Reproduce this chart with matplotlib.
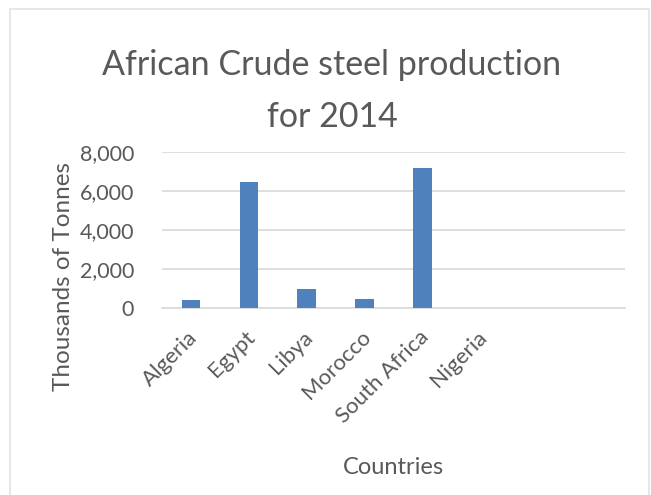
import matplotlib.pyplot as plt
import matplotlib.transforms as mtransforms
from matplotlib.patches import Rectangle
from matplotlib.ticker import FuncFormatter

# datos (miles de toneladas)
paises = ["Algeria", "Egypt", "Libya", "Morocco", "South Africa", "Nigeria", "", ""]
produccion = [380, 6450, 950, 460, 7170, 0, 0, 0]

gris_texto = "#595959"
gris_linea = "#D9D9D9"
azul = "#4F81BD"

plt.rcParams['font.family'] = ['Lato', 'DejaVu Sans']

fig = plt.figure(figsize=(6.51, 4.95), dpi=100)
ax = fig.add_axes([162 / 651, 187.3 / 495, 463 / 651, 155.4 / 495])

x = list(range(len(paises)))
ax.bar(x, produccion, width=0.32, color=azul, zorder=3)

ax.set_xlim(-0.5, len(paises) - 0.5)
ax.set_ylim(0, 8000)
ax.set_yticks([0, 2000, 4000, 6000, 8000])
ax.yaxis.set_major_formatter(FuncFormatter(lambda v, p: f"{int(v):,}"))
ax.grid(axis='y', color=gris_linea, linewidth=1.2, zorder=0)

for lado in ['top', 'right', 'left']:
    ax.spines[lado].set_visible(False)
ax.spines['bottom'].set_color(gris_linea)
ax.spines['bottom'].set_linewidth(1.2)

ax.tick_params(axis='y', length=0, colors=gris_texto, labelsize=15.5, pad=20)
ax.set_xticks(x)
ax.set_xticklabels(paises, rotation=45, ha='right', rotation_mode='anchor')
ax.tick_params(axis='x', length=0, colors=gris_texto, labelsize=16, pad=14)

# mover un poco las etiquetas a la izquierda
desplazamiento = mtransforms.ScaledTranslation(-4 / 100, 0, fig.dpi_scale_trans)
for etiqueta in ax.get_xticklabels():
    etiqueta.set_transform(etiqueta.get_transform() + desplazamiento)

ax.set_ylabel("Thousands of Tonnes", color=gris_texto, fontsize=17.5)
ax.yaxis.set_label_coords(-0.19, 0.2)

fig.text(393 / 651, 1 - 468 / 495, "Countries", color=gris_texto, fontsize=17,
         ha='center', va='center')
fig.text(332 / 651, 1 - 91 / 495, "African Crude steel production\nfor 2014",
         color=gris_texto, fontsize=24.5, ha='center', va='center', linespacing=1.75)

# borde del area del grafico
fig.patches.append(Rectangle((10 / 651, -0.01), 638.5 / 651, 1 - 9 / 495 + 0.01,
                             transform=fig.transFigure, fill=False,
                             edgecolor="#E3E3E3", linewidth=1.2))

fig.savefig("out.png", dpi=100)
